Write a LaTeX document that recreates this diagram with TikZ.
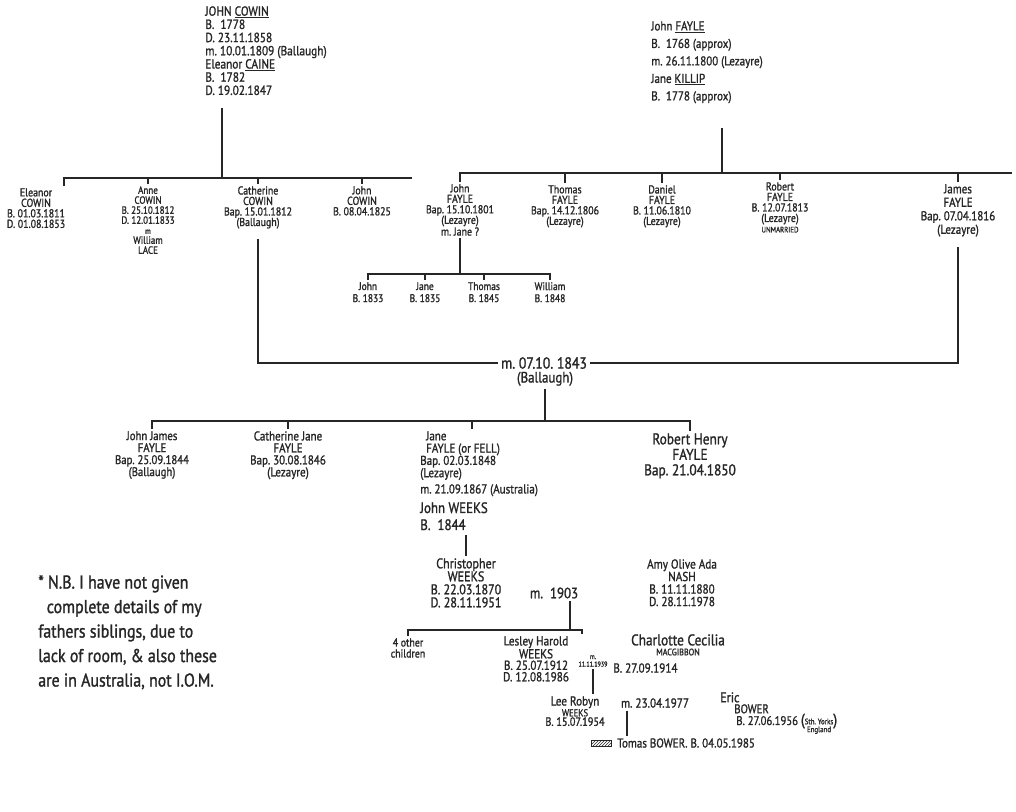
\documentclass[tikz,border=0pt]{standalone}
\usepackage{fontspec}
\setmainfont{PT Sans}[FakeStretch=0.86, FakeBold=1.3]
\usetikzlibrary{patterns}

\definecolor{ink}{HTML}{262626}
\newcommand\handxs{\fontsize{8}{9}\selectfont}
\newcommand\hands{\fontsize{11.5}{10.5}\selectfont}
\newcommand\handm{\fontsize{12.5}{12.5}\selectfont}
\newcommand\handl{\fontsize{14}{14}\selectfont}

\tikzset{
  person/.style={align=center, inner sep=1.5pt, anchor=north, font=\hands},
  couple/.style={align=left, inner sep=1.5pt, anchor=north west, font=\handl},
  wed/.style={inner sep=2pt, font=\handm}
}

\begin{document}
\begin{tikzpicture}[x=1pt, y=-1pt, line width=1.6pt, color=ink]
            % paper
            \useasboundingbox (0,0) rectangle (1016,811);
            \fill[white] (0,0) rectangle (1016,811);

            % Cowin grandparents and their children
            \node[couple, font=\fontsize{13.2}{13.2}\selectfont] (cowins) at (203,4)
                {JOHN \underline{COWIN}\\B.\ \ 1778\\D.\ 23.11.1858\\m.\ 10.01.1809 (Ballaugh)\\Eleanor \underline{CAINE}\\B.\ \ 1782\\D.\ 19.02.1847};
            \coordinate (cowinstem) at (222,108);
            \coordinate (cbar) at (222,178);
            \coordinate (cbarend) at (412,178);

            \node[person] (eleanor)   at (36,186)  {Eleanor\\COWIN\\B.\ 01.03.1811\\D.\ 01.08.1853};
            \node[person, font=\fontsize{10.5}{10}\selectfont] (anne) at (148,184) {Anne\\COWIN\\B.\ 25.10.1812\\D.\ 12.01.1833\\{\handxs m}\\William\\LACE};
            \node[person] (catherine) at (258,184) {Catherine\\COWIN\\Bap.\ 15.01.1812\\(Ballaugh)};
            \node[person] (johnc)     at (362,184) {John\\COWIN\\B.\ 08.04.1825};

            \draw ([xshift=28pt]eleanor.north) |- (cbarend);
            \draw (cowinstem) -- (cbar);
            \foreach \kid in {anne, catherine, johnc}
                \draw (\kid.north) -- (\kid.north |- cbar);

            % Fayle grandparents and their children
            \node[couple, font=\fontsize{12.8}{17.5}\selectfont] (fayles) at (649,19)
                {John \underline{FAYLE}\\B.\ \ 1768 (approx)\\m.\ 26.11.1800 (Lezayre)\\Jane \underline{KILLIP}\\B.\ \ 1778 (approx)};
            \coordinate (faylestem) at (722,128);
            \coordinate (fbar) at (722,173);
            \coordinate (fbarend) at (1012,173);

            \node[person] (johnf)   at (460,182) {John\\FAYLE\\Bap.\ 15.10.1801\\(Lezayre)\\m.\ Jane ?};
            \node[person] (thomasf) at (565,183) {Thomas\\FAYLE\\Bap.\ 14.12.1806\\(Lezayre)};
            \node[person] (danielf) at (662,183) {Daniel\\FAYLE\\B.\ 11.06.1810\\(Lezayre)};
            \node[person] (robertf) at (780,180) {Robert\\FAYLE\\B.\ 12.07.1813\\(Lezayre)\\{\handxs UNMARRIED}};
            \node[person, font=\fontsize{12.8}{13.5}\selectfont] (jamesf) at (958,182) {James\\FAYLE\\Bap.\ 07.04.1816\\(Lezayre)};

            \draw (johnf.north) |- (fbarend);
            \draw (faylestem) -- (fbar);
            \foreach \kid in {thomasf, danielf, robertf, jamesf}
                \draw (\kid.north) -- (\kid.north |- fbar);

            % children of John Fayle
            \coordinate (gbar) at (460,274);
            \node[person, font=\fontsize{11}{12}\selectfont] (gjohn)    at (368,280) {John\\B.\ 1833};
            \node[person, font=\fontsize{11}{12}\selectfont] (gjane)    at (425,280) {Jane\\B.\ 1835};
            \node[person, font=\fontsize{11}{12}\selectfont] (gthomas)  at (484,280) {Thomas\\B.\ 1845};
            \node[person, font=\fontsize{11}{12}\selectfont] (gwilliam) at (550,280) {William\\B.\ 1848};

            \draw (johnf.south) -- (gbar);
            \draw (gjohn.north) |- (gbar) -| (gwilliam.north);
            \foreach \kid in {gjane, gthomas}
                \draw (\kid.north) -- (\kid.north |- gbar);

            % Catherine Cowin marries James Fayle
            \node[wed, font=\fontsize{16}{16}\selectfont] (wed1) at (544,363) {m.\ 07.10.\ 1843};
            \node[wed, font=\fontsize{15}{15}\selectfont, anchor=north] (wed1p) at (545,369) {(Ballaugh)};
            \draw[shorten <=8pt] (catherine.south) |- (wed1.west);
            \draw[shorten <=8pt] (jamesf.south) |- (wed1.east);

            % their children
            \coordinate (kbar) at (545,421);
            \draw (wed1p.south) -- (kbar);
            \node[person, font=\fontsize{12.5}{12}\selectfont] (johnjames) at (152,429) {John James\\FAYLE\\Bap.\ 25.09.1844\\(Ballaugh)};
            \node[person, font=\fontsize{12.8}{12}\selectfont] (cathjane)  at (288,429) {Catherine Jane\\FAYLE\\Bap.\ 30.08.1846\\(Lezayre)};
            \node[couple, font=\fontsize{12.8}{12.3}\selectfont] (janef) at (418,429) {\ \ Jane\\\ \ FAYLE (or FELL)\\Bap.\ 02.03.1848\\(Lezayre)};
            \node[couple, font=\fontsize{12.8}{12.3}\selectfont] (wed2)   at (418,482) {m.\ 21.09.1867 (Australia)};
            \node[couple, font=\fontsize{15}{17}\selectfont]     (weeksj) at (418,500) {John WEEKS\\B.\ \ 1844};
            \node[person, font=\fontsize{15.5}{15.5}\selectfont] (roberth) at (690,431) {Robert Henry\\FAYLE\\Bap.\ 21.04.1850};

            \coordinate (janetop) at ([xshift=12pt]janef.north);
            \draw (johnjames.north) |- (kbar) -| (roberth.north);
            \draw (cathjane.north) -- (cathjane.north |- kbar);
            \draw (janetop) -- (janetop |- kbar);

            % Jane Fayle and John Weeks
            \node[person, font=\fontsize{14}{13}\selectfont] (christopher) at (466,556) {Christopher\\WEEKS\\B.\ 22.03.1870\\D.\ 28.11.1951};
            \draw[shorten <=3pt] (weeksj.south -| christopher.north) -- (christopher.north);
            \node[wed, font=\fontsize{15}{15}\selectfont] (wed3) at (554,593) {m.\ \ 1903};
            \node[person, font=\fontsize{13}{12.5}\selectfont] (amy) at (682,557) {Amy Olive Ada\\NASH\\B.\ 11.11.1880\\D.\ 28.11.1978};

            % their children
            \coordinate (wbar) at (570,630);
            \coordinate (wbarend) at (582,630);
            \coordinate (wstem) at ([xshift=16pt]wed3.south);
            \node[person, font=\fontsize{11.5}{11}\selectfont] (others) at (408,636) {4 other\\children};
            \node[person, font=\fontsize{13}{11.5}\selectfont] (lesley) at (536,634) {Lesley Harold\\WEEKS\\B.\ 25.07.1912\\D.\ 12.08.1986};
            \draw (wstem) -- (wstem |- wbar);
            \draw (others.north) |- (wbarend) -- (wbarend |- lesley.north);

            % Lesley Weeks and Charlotte MacGibbon
            \node[wed, font=\fontsize{7}{7.5}\selectfont, align=center] (wed4) at (593,661) {m.\\11.11.1939};
            \node[person, font=\fontsize{15.5}{10}\selectfont] (charlotte) at (678,632) {Charlotte Cecilia\\{\fontsize{9.5}{10}\selectfont MACGIBBON}};
            \node[couple, font=\fontsize{13}{11}\selectfont, anchor=west] (charlotteb) at (611,668) {B.\ 27.09.1914};

            \node[person, font=\fontsize{13}{9.5}\selectfont] (lee) at (575,694) {Lee Robyn\\{\fontsize{10}{9.5}\selectfont WEEKS}\\{\fontsize{12}{9.5}\selectfont B.\ 15.07.1954}};
            \draw (wed4.south) -- (wed4.south |- lee.north);

            % Lee Weeks and Eric Bower
            \node[wed, font=\fontsize{13}{11}\selectfont] (wed5) at (655,703) {m.\ 23.04.1977};
            \node[couple, font=\fontsize{14}{11}\selectfont] (eric) at (718,690) {Eric\\\hspace{14pt}{\fontsize{12.5}{11}\selectfont BOWER}};
            \node[couple, font=\fontsize{12.5}{10}\selectfont, anchor=west] (ericb) at (734,724)
                {B.\ 27.06.1956 {\fontsize{16}{16}\selectfont(}\raisebox{-3.5pt}{\fontsize{8}{8}\selectfont\renewcommand\arraystretch{0.95}\begin{tabular}{@{}c@{}}Sth.\ Yorks\\England\end{tabular}}{\fontsize{16}{16}\selectfont)}};

            \node[couple, font=\fontsize{12.8}{12}\selectfont, anchor=west] (tomas) at (615,743) {Tomas BOWER.\ B.\ 04.05.1985};
            \coordinate (tstem) at ([xshift=-28pt]wed5.south);
            \draw (tstem) -- (tstem |- tomas.north);
            % scribbled-out word
            \filldraw[pattern=north east lines, pattern color=ink, line width=0.8pt]
                ([xshift=-24pt,yshift=-3pt]tomas.west) rectangle ([xshift=-4pt,yshift=3pt]tomas.west);

            % note on the lower left
            \node[couple, font=\fontsize{18.5}{24.5}\selectfont] (note) at (36,573)
                {* N.B.\ I have not given\\\ \ complete details of my\\fathers siblings, due to\\lack of room, \& also these\\are in Australia, not I.O.M.};
        \end{tikzpicture}
\end{document}
